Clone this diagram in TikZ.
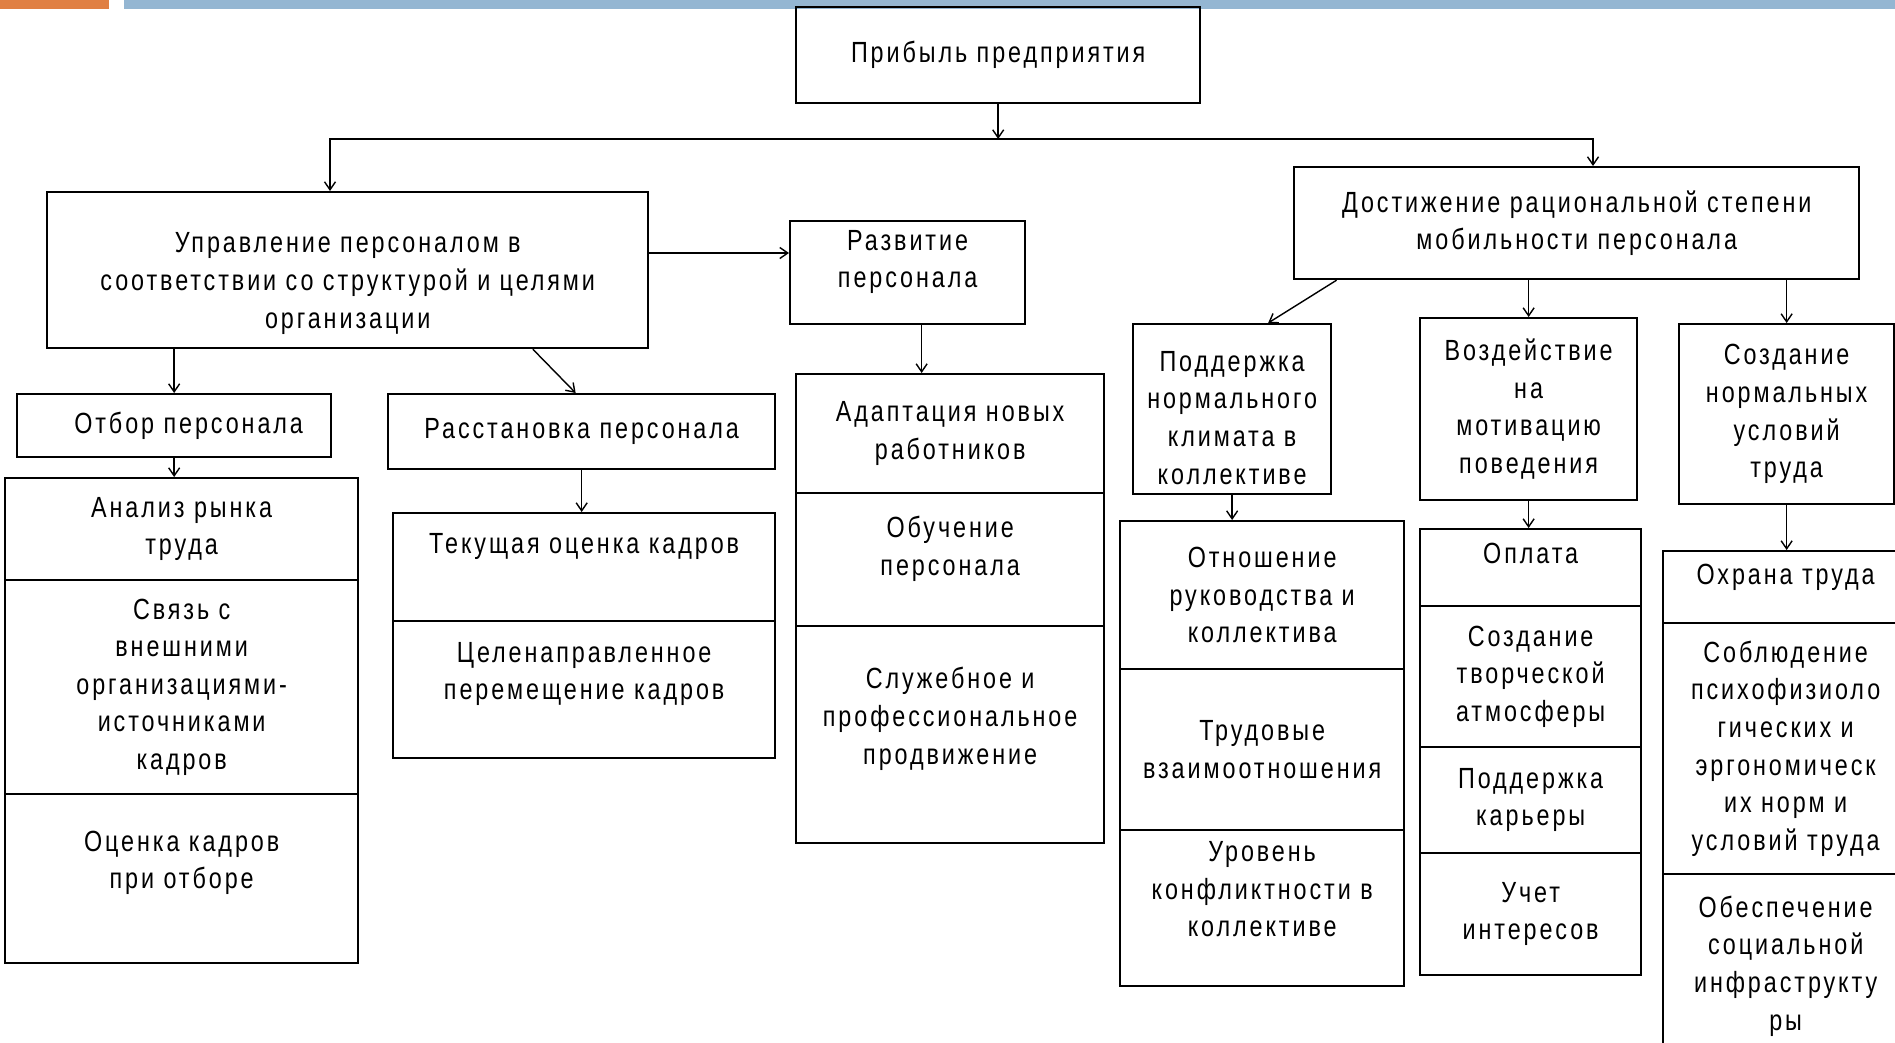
\documentclass[tikz,border=0pt]{standalone}
\usepackage{fontspec}
\setmainfont{Liberation Sans}[FakeStretch=0.8,LetterSpace=10]
\usetikzlibrary{arrows.meta}
\definecolor{barorange}{RGB}{224,128,68}
\definecolor{barblue}{RGB}{148,182,210}
\tikzset{
  box/.style={draw, line width=0.6pt, anchor=north west, align=center, inner sep=1pt,
    font=\fontsize{8.3pt}{10.7pt}\selectfont},
  link/.style={->, line width=0.4pt}
}

\begin{document}
\begin{tikzpicture}[x=0.01cm,y=-0.01cm,>={Straight Barb[length=0.8mm,width=1.1mm]}]
\useasboundingbox (0,0) rectangle (1895,1042);
\clip (0,0) rectangle (1895,1042);
\fill[barorange] (0,0) rectangle (109,9);
\fill[barblue] (124,0) rectangle (1895,9);

\node[box, minimum width=4.04cm, minimum height=0.96cm] (profit) at (795,6) {Прибыль предприятия};
\node[box, minimum width=6.01cm, minimum height=1.56cm] (manage) at (46,191)
  {\mbox{}\\[0.09cm]Управление персоналом в\\соответствии со структурой и целями\\организации};
\node[box, minimum width=2.35cm, minimum height=1.03cm] (dev) at (789,220) {Развитие\\персонала\\[-0.1cm]\mbox{}};
\node[box, minimum width=5.65cm, minimum height=1.12cm] (mobil) at (1293,166)
  {Достижение рациональной степени\\мобильности персонала};

\node[box, minimum width=3.14cm, minimum height=0.63cm] (select) at (16,393) {\hspace*{0.29cm}Отбор персонала};
\node[box, minimum width=3.87cm, minimum height=0.75cm] (place) at (387,393) {Расстановка персонала};
\node[box, minimum width=1.98cm, minimum height=1.70cm] (climate) at (1132,323)
  {\mbox{}\\Поддержка\\нормального\\климата в\\коллективе};
\node[box, minimum width=2.17cm, minimum height=1.82cm] (motiv) at (1419,317)
  {Воздействие\\на\\мотивацию\\поведения};
\node[box, minimum width=2.15cm, minimum height=1.80cm] (cond) at (1678,323)
  {Создание\\нормальных\\условий\\труда};

\node[box, minimum width=3.53cm, minimum height=1.02cm] (market) at (4,477) {Анализ рынка\\труда};
\node[box, minimum width=3.53cm, minimum height=2.14cm] (links) at (4,579)
  {Связь с\\внешними\\организациями-\\источниками\\кадров};
\node[box, minimum width=3.53cm, minimum height=1.69cm] (assess) at (4,793) {Оценка кадров\\при отборе\\\mbox{}};

\node[box, minimum width=3.82cm, minimum height=1.08cm] (current) at (392,512) {Текущая оценка кадров\\[1mm]\mbox{}};
\node[box, minimum width=3.82cm, minimum height=1.37cm] (transfer) at (392,620)
  {Целенаправленное\\перемещение кадров\\\mbox{}};

\node[box, minimum width=3.08cm, minimum height=1.19cm] (adapt) at (795,373) {Адаптация новых\\работников};
\node[box, minimum width=3.08cm, minimum height=1.33cm] (train) at (795,492) {Обучение\\персонала\\[-0.1cm]\mbox{}};
\node[box, minimum width=3.08cm, minimum height=2.17cm] (promo) at (795,625)
  {Служебное и\\профессиональное\\продвижение\\\mbox{}};

\node[box, minimum width=2.84cm, minimum height=1.48cm] (attitude) at (1119,520)
  {Отношение\\руководства и\\коллектива};
\node[box, minimum width=2.84cm, minimum height=1.61cm] (labour) at (1119,668) {Трудовые\\взаимоотношения};
\node[box, minimum width=2.84cm, minimum height=1.56cm] (conflict) at (1119,829)
  {Уровень\\конфликтности в\\коллективе\\\mbox{}};

\node[box, minimum width=2.21cm, minimum height=0.77cm] (pay) at (1419,528) {Оплата\\[-0.1cm]\mbox{}};
\node[box, minimum width=2.21cm, minimum height=1.41cm] (creative) at (1419,605)
  {Создание\\творческой\\атмосферы};
\node[box, minimum width=2.21cm, minimum height=1.06cm] (career) at (1419,746) {Поддержка\\карьеры};
\node[box, minimum width=2.21cm, minimum height=1.22cm] (interest) at (1419,852) {Учет\\интересов};

\node[box, minimum width=2.45cm, minimum height=0.72cm] (safety) at (1662,550) {Охрана труда\\[-0.12cm]\mbox{}};
\node[box, minimum width=2.45cm, minimum height=2.51cm] (norms) at (1662,622)
  {Соблюдение\\психофизиоло\\гических и\\эргономическ\\их норм и\\условий труда};
\node[box, minimum width=2.45cm, minimum height=1.84cm] (infra) at (1662,873)
  {Обеспечение\\социальной\\инфраструкту\\ры};

\coordinate (lft) at (330,139);
\coordinate (rgt) at (1593,139);
\coordinate (devout) at ([xshift=1.4mm]dev.south);
\draw[link] (profit.south) -- (profit.south |- lft);
\draw[link,<->] (manage.north -| lft) -- (lft) -- (rgt) -- (rgt |- mobil.north);
\draw[link] (manage.east |- 0,253) -- (dev.west |- 0,253);
\draw[link] (manage.south -| select.north) -- (select.north);
\draw[link] ([xshift=18.5mm]manage.south) -- ([xshift=-0.6mm]place.north);
\draw[link] (select.south) -- (select.south |- market.north);
\draw[link] (place.south) -- (place.south |- current.north);
\draw[link] (devout) -- (devout |- adapt.north);
\draw[link] ([xshift=-24mm]mobil.south) -- ([xshift=3.6mm]climate.north);
\draw[link] (mobil.south -| motiv.north) -- (motiv.north);
\draw[link] (mobil.south -| cond.north) -- (cond.north);
\draw[link] (climate.south) -- (climate.south |- attitude.north);
\draw[link] (motiv.south) -- (motiv.south |- pay.north);
\draw[link] (cond.south) -- (cond.south |- safety.north);
\end{tikzpicture}
\end{document}
